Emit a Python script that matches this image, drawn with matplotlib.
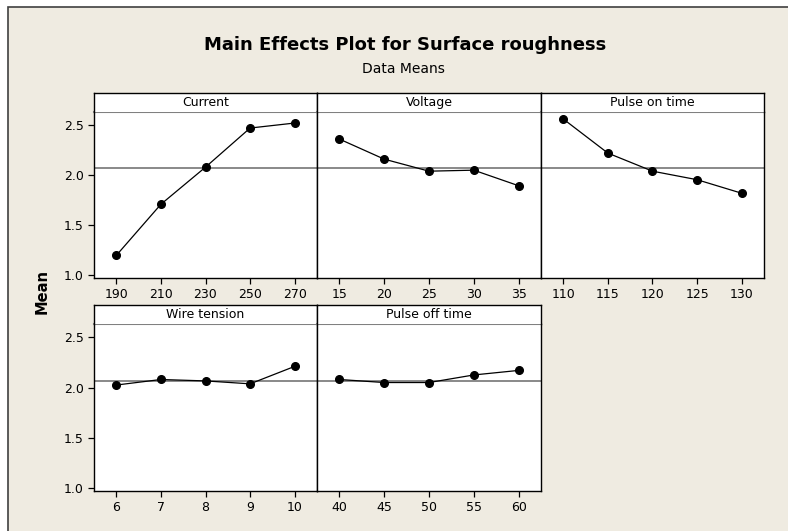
import numpy as np
import matplotlib.pyplot as plt
from matplotlib.patches import Rectangle

# data
factors = ["Current", "Voltage", "Pulse on time", "Wire tension", "Pulse off time"]
current_levels = [190, 210, 230, 250, 270]
voltage_levels = [15, 20, 25, 30, 35]
pulse_on_levels = [110, 115, 120, 125, 130]
wire_levels = [6, 7, 8, 9, 10]
pulse_off_levels = [40, 45, 50, 55, 60]

current_means = [1.20, 1.71, 2.08, 2.47, 2.52]
voltage_means = [2.36, 2.16, 2.04, 2.05, 1.895]
pulse_on_means = [2.56, 2.22, 2.04, 1.955, 1.82]
wire_means = [2.025, 2.08, 2.066, 2.037, 2.21]
pulse_off_means = [2.08, 2.05, 2.05, 2.125, 2.17]

grand_mean = 2.07
yticks = [1.0, 1.5, 2.0, 2.5]

levels = [current_levels, voltage_levels, pulse_on_levels, wire_levels, pulse_off_levels]
means = [current_means, voltage_means, pulse_on_means, wire_means, pulse_off_means]

W, H = 788, 531
BG = '#EFEBE1'

fig = plt.figure(figsize=(W / 100, H / 100), dpi=100)
fig.patch.set_facecolor('white')
frame = Rectangle((8 / W, -0.01), 1, 1.01 - 7 / H, transform=fig.transFigure,
                  facecolor=BG, edgecolor='#404040', linewidth=1.2, zorder=-10)
fig.patches.append(frame)

# panel geometry in pixels (left, right) and (top of plot, bottom of plot)
cols = [(94, 317), (317, 541), (541, 764)]
rows = [(112, 278), (324, 491)]
strip_h = 19

for k, name in enumerate(factors):
    r, c = divmod(k, 3)
    x0, x1 = cols[c]
    y0, y1 = rows[r]
    ax = fig.add_axes([x0 / W, 1 - y1 / H, (x1 - x0) / W, (y1 - y0) / H])
    ax.set_facecolor('white')

    xs = np.arange(len(levels[k]))
    ax.axhline(grand_mean, color='#808080', linewidth=1.3, zorder=1)
    ax.plot(xs, means[k], color='black', linewidth=0.9, marker='o',
            markersize=5.5, zorder=3)

    ax.set_xlim(-0.5, len(xs) - 0.5)
    ax.set_ylim(0.975, 2.63)
    ax.set_xticks(xs)
    ax.set_xticklabels([str(v) for v in levels[k]], fontsize=9)
    ax.set_yticks(yticks)
    if c == 0:
        ax.set_yticklabels([f"{v:.1f}" for v in yticks], fontsize=9)
        ax.tick_params(axis='y', length=4, width=0.9, direction='out')
    else:
        ax.tick_params(axis='y', length=0, labelleft=False)
    ax.tick_params(axis='x', length=4, width=0.9, direction='out', pad=3)
    for s in ax.spines.values():
        s.set_color('black')
        s.set_linewidth(1.0)
    ax.spines['top'].set_color('#808080')
    ax.spines['top'].set_linewidth(1.5)

    # strip header
    sx = fig.add_axes([x0 / W, 1 - y0 / H, (x1 - x0) / W, strip_h / H])
    sx.set_facecolor('white')
    sx.set_xticks([])
    sx.set_yticks([])
    for s in sx.spines.values():
        s.set_color('black')
        s.set_linewidth(1.0)
    sx.spines['bottom'].set_visible(False)
    sx.text(0.5, 0.48, name, ha='center', va='center', fontsize=9,
            transform=sx.transAxes)

fig.text(0.514, 0.915, "Main Effects Plot for Surface roughness",
         ha='center', va='center', fontsize=13, fontweight='bold')
fig.text(0.512, 0.870, "Data Means", ha='center', va='center', fontsize=10)
fig.text(0.053, 1 - 292 / H, "Mean", ha='center', va='center', rotation=90,
         fontsize=10.5, fontweight='bold')

fig.savefig('out.png', dpi=100, facecolor=fig.get_facecolor())
